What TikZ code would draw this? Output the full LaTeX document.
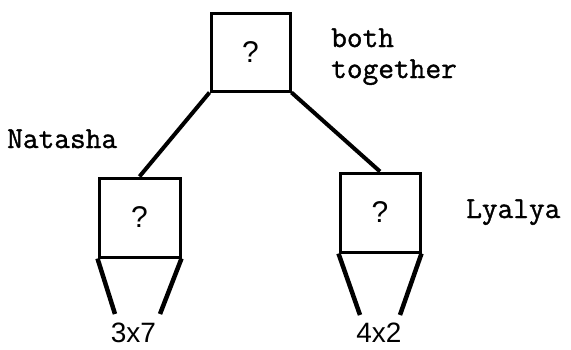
\documentclass[tikz,border=0pt]{standalone}
\usepackage{fontspec}
\newfontfamily\monofont{Latin Modern Mono}[FakeBold=1.2]
\newfontfamily\sansfont{Liberation Sans}
\begin{document}
\begin{tikzpicture}[x=1pt,y=-1pt,
  qbox/.style={draw,line width=3pt,minimum width=#1,minimum height=79pt,inner sep=0pt,font=\sansfont\fontsize{30}{30}\selectfont},
  qbox/.default=80pt,
  conn/.style={line width=4pt},
  leg/.style={line width=4.5pt},
  lbl/.style={font=\monofont\fontsize{30.5}{31}\selectfont,inner sep=0pt,anchor=base west},
  num/.style={font=\sansfont\fontsize{28}{28}\selectfont,inner sep=0pt,anchor=base}]
\useasboundingbox (0,0) rectangle (571,349);
\node[qbox=79pt,minimum height=78pt] (top) at (250.5,52) {?};
\node[qbox=81pt] (left) at (139.5,217.5) {?};
\node[qbox=80pt] (right) at (380,212.5) {?};
\draw[conn] (top.south west) -- (left.north);
\draw[conn] (top.south east) -- (right.north);
\coordinate (l1) at (115,314);
\coordinate (l2) at (160,314);
\coordinate (r1) at (360,315);
\coordinate (r2) at (400,315);
\draw[leg] (left.south west) -- (l1);
\draw[leg] (left.south east) -- (l2);
\draw[leg] (right.south west) -- (r1);
\draw[leg] (right.south east) -- (r2);
\node[num] (n37) at (133.5,342) {3x7};
\node[num] (n42) at (379,342) {4x2};
\node[lbl] (both) at (331,47) {both};
\node[lbl] (tog) at (331,78) {together};
\node[lbl] (nat) at (7,148) {Natasha};
\node[lbl] (lya) at (466,218) {Lyalya};
\end{tikzpicture}
\end{document}
